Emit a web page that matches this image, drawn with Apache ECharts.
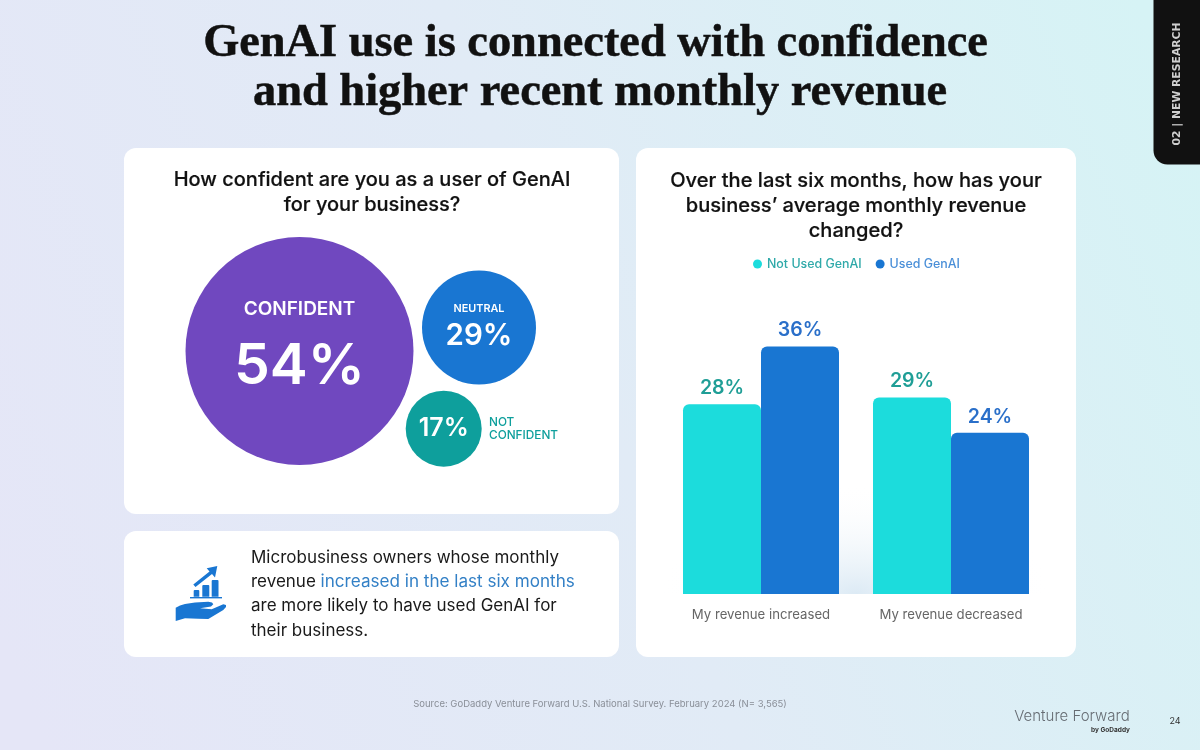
<!DOCTYPE html>
<html><head><meta charset="utf-8">
<style>html,body{margin:0;padding:0;background:#e4eaf6}#c{width:1200px;height:750px}</style>
<script src="https://cdn.jsdelivr.net/npm/echarts@6/dist/echarts.min.js"></script>
</head><body><div id="c"></div>
<script>
const categories = ['My revenue increased', 'My revenue decreased'];
const notUsedGenAI = [27.9, 28.9];
const usedGenAI = [36.4, 23.7];
const confidenceNames = ['CONFIDENT', 'NEUTRAL', 'NOT CONFIDENT'];
const confidenceValues = [54, 29, 17];

const FONT = 'Inter';
const layout = { x: [129.5, 309, 273.7], y: [121, 97.5, 198.7], d: [228, 114, 76], lift: [-6, -1, 0] };
const bubbleColors = ['#7048BF', '#1976D2', '#0E9F9C'];
const bubbleRich = {
  a: { fontFamily: FONT, fontWeight: 600, fontSize: 19, color: '#fff', lineHeight: 44, padding: [0,0,6,0] },
  A: { fontFamily: FONT, fontWeight: 600, fontSize: 57, color: '#fff', lineHeight: 66 },
  b: { fontFamily: FONT, fontWeight: 600, fontSize: 10.8, color: '#fff', lineHeight: 20 },
  B: { fontFamily: FONT, fontWeight: 600, fontSize: 29.5, color: '#fff', lineHeight: 36 },
  C: { fontFamily: FONT, fontWeight: 600, fontSize: 25, color: '#fff', lineHeight: 30 }
};
const bubbleFormat = [
  i => `{a|${confidenceNames[i]}}\n{A|${confidenceValues[i]}%}`,
  i => `{b|${confidenceNames[i]}}\n{B|${confidenceValues[i]}%}`,
  i => `{C|${confidenceValues[i]}%}`
];

function text(x, y, t, fs, color, extra) {
  return Object.assign({ type: 'text', x, y, z: 5, style: Object.assign({
    text: t, fontFamily: FONT, fontSize: fs, fill: color, align: 'center', verticalAlign: 'middle'
  }, extra || {}) });
}
function card(x, y, w, h) {
  return { type: 'rect', z: 1, shape: { x, y, width: w, height: h, r: 12 }, style: { fill: '#fff' } };
}
const ICON = '#1976D2';
const TITLE = { fontFamily: 'Liberation Serif', fontWeight: 'bold', stroke: '#111', lineWidth: 0.5 };
const graphics = [
  card(124, 148, 495, 366), card(124, 531, 495, 126), card(636, 148, 440, 509),
  { type: 'rect', z: 1, x: 856, y: 594, scaleX: 196, scaleY: 110, shape: { x: -1, y: -1, width: 2, height: 1 }, style: {
      fill: new echarts.graphic.RadialGradient(0, 0, 1, [
        { offset: 0, color: 'rgba(205,225,240,0.7)' }, { offset: 1, color: 'rgba(255,255,255,0)' }], true) } },
  { type: 'rect', z: 2, shape: { x: 1153.5, y: -20, width: 80, height: 184.5, r: 14 }, style: { fill: '#111111' } },
  { type: 'text', z: 5, x: 1177, y: 84, rotation: Math.PI / 2, style: {
      text: '02 | NEW RESEARCH', fontFamily: 'DejaVu Sans', fontWeight: 'bold', fontSize: 10.8, fill: '#cfcfcf',
      align: 'center', verticalAlign: 'middle' } },
  text(595.5, 44, 'GenAI use is connected with confidence', 46.4, '#111', TITLE),
  text(600, 93, 'and higher recent monthly revenue', 46.4, '#111', TITLE),
  text(372, 192.5, 'How confident are you as a user of GenAI\nfor your business?', 20, '#111', { fontWeight: 500, lineHeight: 25, stroke: '#111', lineWidth: 0.2 }),
  text(856, 205.5, 'Over the last six months, how has your\nbusiness\u2019 average monthly revenue\nchanged?', 20.1, '#111', { fontWeight: 500, lineHeight: 25, stroke: '#111', lineWidth: 0.2 }),
  text(489, 428.5, 'NOT\nCONFIDENT', 11.8, '#0E9F9C', { align: 'left', fontWeight: 500, lineHeight: 13 }),
  { type: 'text', z: 5, x: 251, y: 594, style: {
      text: 'Microbusiness owners whose monthly\nrevenue {h|increased in the last six months}\nare more likely to have used GenAI for\ntheir business.',
      fontFamily: FONT, fontSize: 17, fill: '#1a1a1a', lineHeight: 24.3, align: 'left', verticalAlign: 'middle',
      rich: { h: { fontFamily: FONT, fontSize: 17.1, fill: '#3380C6', lineHeight: 24.3 } } } },
  text(600, 704, 'Source: GoDaddy Venture Forward U.S. National Survey. February 2024 (N= 3,565)', 9.5, '#8a8f98'),
  text(1072, 716, 'Venture Forward', 15, '#666c73', { fontWeight: 300 }),
  text(1130, 730, 'by GoDaddy', 6.5, '#333', { align: 'right', fontWeight: 700 }),
  text(1175, 721, '24', 9, '#333'),
  // icon
  { type: 'rect', z: 5, shape: { x: 193.7, y: 590, width: 5.6, height: 6.7, r: [1, 1, 0, 0] }, style: { fill: ICON } },
  { type: 'rect', z: 5, shape: { x: 202.3, y: 585, width: 7, height: 11.7, r: [1, 1, 0, 0] }, style: { fill: ICON } },
  { type: 'rect', z: 5, shape: { x: 211.7, y: 580, width: 6.8, height: 16.7, r: [1, 1, 0, 0] }, style: { fill: ICON } },
  { type: 'rect', z: 5, shape: { x: 190, y: 597, width: 32, height: 1.4 }, style: { fill: ICON } },
  { type: 'polygon', z: 5, shape: { points: [[193.3,584.5],[209.5,571.5],[206.7,568.3],[217.3,566],[215,577.5],[212,574],[195.5,587]] }, style: { fill: ICON } },
  { type: 'polygon', z: 5, shape: { points: [[175.7,607.7],[180,605.5],[185,604],[195,602.5],[208.3,601.7],[212,602.5],[213.3,604.3],[211,606.5],[200,608.3],[211.7,609.3],[223.3,604.3],[226,605],[226,607],[223.3,610],[208.3,619],[198.3,618.8],[185,618.3],[175.7,621]] }, style: { fill: ICON } }
];

const chart = echarts.init(document.getElementById('c'), null, { renderer: 'canvas' });
chart.setOption({
  animation: false,
  backgroundColor: new echarts.graphic.LinearGradient(0, 0.85, 1, 0.2, [
    { offset: 0, color: '#E5E6F7' }, { offset: 0.5, color: '#E1EBF6' }, { offset: 1, color: '#D6F3F5' }]),
  graphic: graphics,
  legend: {
    data: [
      { name: 'Not Used GenAI', textStyle: { color: '#2FA9A9' } },
      { name: 'Used GenAI', textStyle: { color: '#4A8FD8' } }],
    left: 753, top: 258, icon: 'circle', itemWidth: 9, itemHeight: 9, itemGap: 14,
    selectedMode: false, textStyle: { fontFamily: FONT, fontSize: 12.4, fontWeight: 500 }, padding: 0, z: 10
  },
  grid: [
    { left: 666, top: 322, width: 380, height: 272 },
    { left: 170, top: 230, width: 400, height: 240 }
  ],
  xAxis: [
    { type: 'category', gridIndex: 0, z: 10, data: categories, axisLine: { show: false }, axisTick: { show: false },
      axisLabel: { color: '#666', fontFamily: FONT, fontSize: 13.2, margin: 15 } },
    { type: 'value', gridIndex: 1, min: 0, max: 400, show: false }
  ],
  yAxis: [
    { type: 'value', gridIndex: 0, min: 0, max: 40, show: false },
    { type: 'value', gridIndex: 1, min: 0, max: 240, inverse: true, show: false }
  ],
  series: [
    { name: 'Not Used GenAI', type: 'bar', xAxisIndex: 0, yAxisIndex: 0, data: notUsedGenAI, barWidth: 78, barGap: '0%',
      itemStyle: { color: '#1CDCDC', borderRadius: [6, 6, 0, 0] },
      label: { show: true, position: 'top', distance: 6, color: '#1F9E96', fontFamily: FONT, fontSize: 19.5, fontWeight: 600,
        formatter: p => Math.round(p.value) + '%' } },
    { name: 'Used GenAI', type: 'bar', xAxisIndex: 0, yAxisIndex: 0, data: usedGenAI, barWidth: 78,
      itemStyle: { color: '#1976D2', borderRadius: [6, 6, 0, 0] },
      label: { show: true, position: 'top', distance: 6, color: '#2A6FC9', fontFamily: FONT, fontSize: 19.5, fontWeight: 600,
        formatter: p => Math.round(p.value) + '%' } },
    { name: 'Confidence', type: 'scatter', xAxisIndex: 1, yAxisIndex: 1, silent: true,
      data: confidenceValues.map((v, i) => ({
        value: [layout.x[i], layout.y[i], v], symbolSize: layout.d[i],
        itemStyle: { color: bubbleColors[i], opacity: 1 },
        label: { show: true, position: 'inside', offset: [0, layout.lift[i]], formatter: bubbleFormat[i](i), rich: bubbleRich }
      })) }
  ]
});
</script></body></html>
